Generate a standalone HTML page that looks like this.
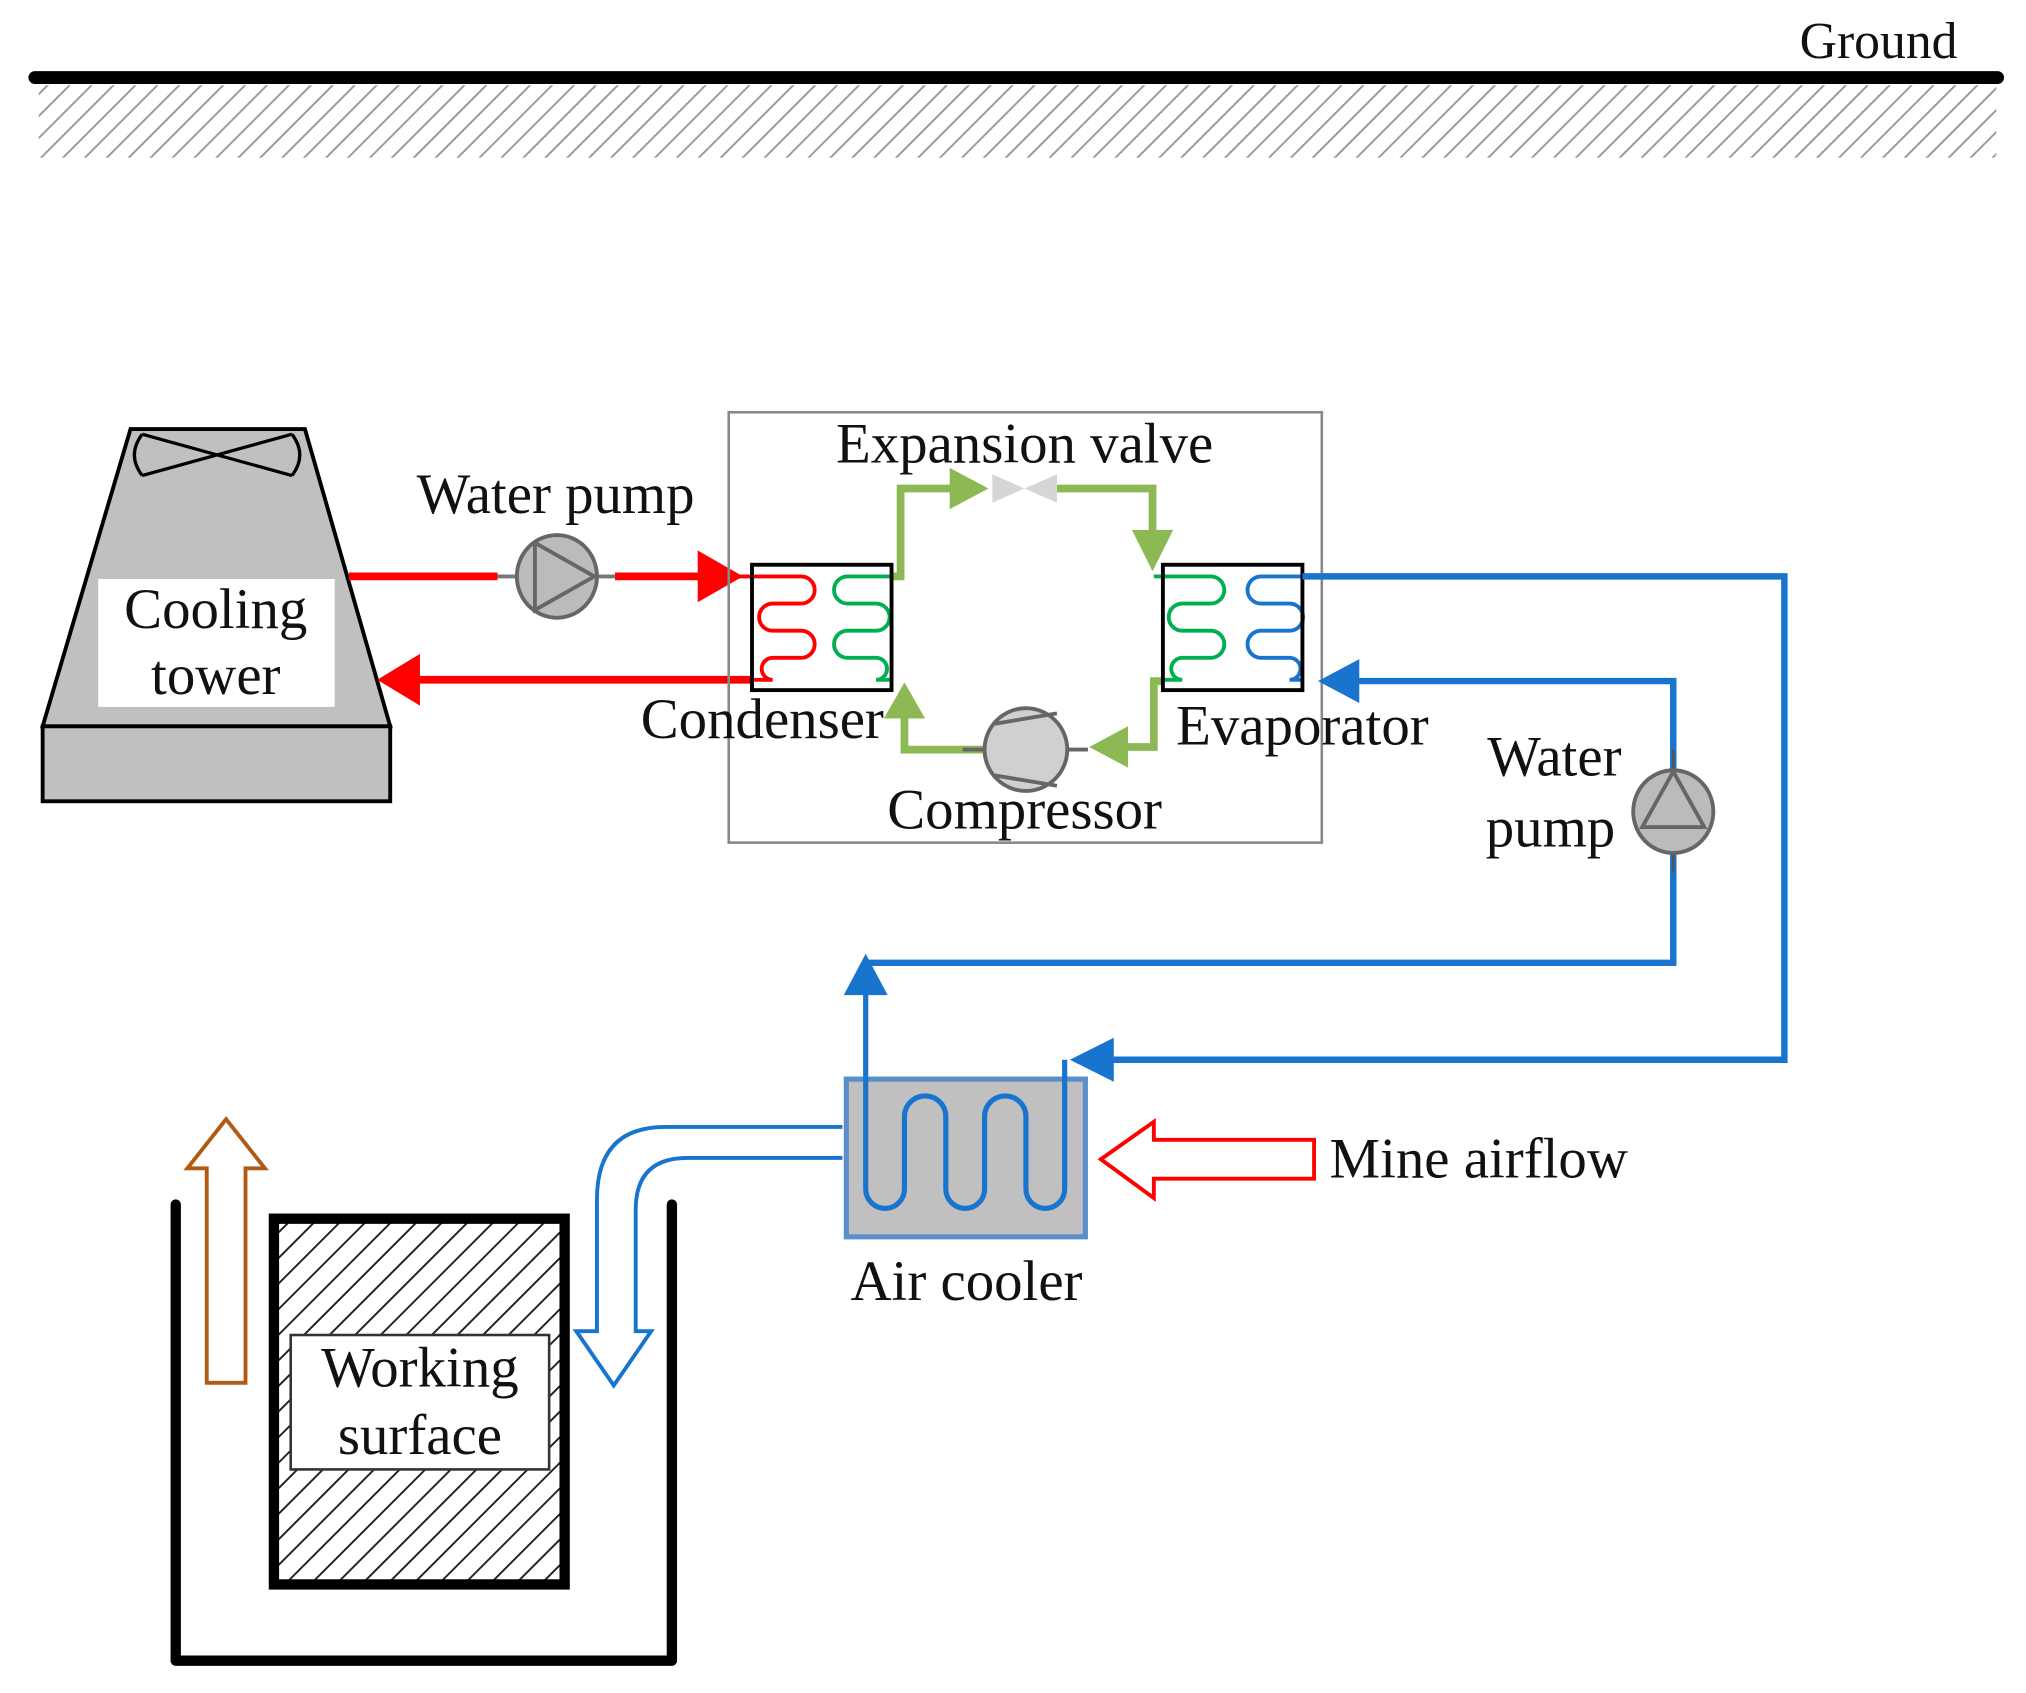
<!DOCTYPE html>
<html><head><meta charset="utf-8"><style>
html,body{margin:0;padding:0;background:#fff}
svg{display:block}
text{font-family:"Liberation Serif",serif;fill:#111}
</style></head><body>
<svg width="2026" height="1693" viewBox="0 0 1568 1310" preserveAspectRatio="none" xmlns="http://www.w3.org/2000/svg">
<defs>
<pattern id="hg" width="12" height="12" patternUnits="userSpaceOnUse" patternTransform="rotate(45)">
<rect width="12" height="12" fill="#fff"/><line x1="0" y1="0" x2="0" y2="12" stroke="#9a9a9a" stroke-width="3"/></pattern>
<pattern id="hb" width="14" height="14" patternUnits="userSpaceOnUse" patternTransform="rotate(45)">
<rect width="14" height="14" fill="#fff"/><line x1="0" y1="0" x2="0" y2="14" stroke="#222" stroke-width="3"/></pattern>
</defs>

<text x="1515" y="45" font-size="40" text-anchor="end">Ground</text>
<rect x="30" y="66" width="1515" height="56" fill="url(#hg)"/>
<line x1="27" y1="60" x2="1546" y2="60" stroke="#000" stroke-width="10" stroke-linecap="round"/>

<polygon points="101,332 236,332 302,562 33,562" fill="#c0c0c0" stroke="#000" stroke-width="3"/>
<rect x="33" y="562" width="269" height="58" fill="#c0c0c0" stroke="#000" stroke-width="3"/>
<path d="M110,336 Q98,352 110,368 M226,336 Q238,352 226,368" fill="none" stroke="#000" stroke-width="2.5"/>
<line x1="110" y1="336" x2="226" y2="368" stroke="#000" stroke-width="2.5"/>
<line x1="110" y1="368" x2="226" y2="336" stroke="#000" stroke-width="2.5"/>
<rect x="76" y="448" width="183" height="99" fill="#fff"/>
<text x="167" y="486" font-size="44" text-anchor="middle">Cooling</text>
<text x="167" y="537" font-size="44" text-anchor="middle">tower</text>

<line x1="270" y1="446" x2="385" y2="446" stroke="#f00" stroke-width="6"/>
<line x1="385" y1="446" x2="400" y2="446" stroke="#777" stroke-width="3"/>
<line x1="462" y1="446" x2="476" y2="446" stroke="#777" stroke-width="3"/>
<line x1="476" y1="446" x2="550" y2="446" stroke="#f00" stroke-width="6"/>
<polygon points="540,426 575,446 540,466" fill="#f00"/>
<ellipse cx="431" cy="446" rx="31" ry="32" fill="#bbb" stroke="#666" stroke-width="3"/>
<polyline points="414,420 460,446 414,472 414,420" fill="none" stroke="#666" stroke-width="3"/>
<line x1="582" y1="526" x2="320" y2="526" stroke="#f00" stroke-width="6"/>
<polygon points="325,506 292,526 325,546" fill="#f00"/>

<rect x="564" y="319" width="459" height="333" fill="none" stroke="#888" stroke-width="2"/>
<text x="793" y="358" font-size="44" text-anchor="middle">Expansion valve</text>
<text x="430" y="397" font-size="44" text-anchor="middle">Water pump</text>

<g stroke="#8db955" stroke-width="6" fill="none">
<polyline points="690,446 697,446 697,378 745,378"/>
<polyline points="818,378 892,378 892,420"/>
<polyline points="900,527 893,527 893,578 860,578"/>
<polyline points="762,580 700,580 700,548"/>
</g>
<polygon points="735,362 765,378 735,394" fill="#8db955"/>
<polygon points="876,410 892,442 908,410" fill="#8db955"/>
<polygon points="873,562 843,578 873,594" fill="#8db955"/>
<polygon points="684,556 700,528 716,556" fill="#8db955"/>
<polygon points="768,367 818,389 818,367 768,389" fill="#d6d6d6"/>

<line x1="745" y1="580" x2="842" y2="580" stroke="#666" stroke-width="3"/>
<circle cx="794" cy="580" r="32" fill="#d0d0d0" stroke="#666" stroke-width="3"/>
<path d="M770,560 L818,552 M770,600 L818,608" stroke="#666" stroke-width="3"/>
<text x="793" y="641" font-size="44" text-anchor="middle">Compressor</text>

<path d="M572,446 H620 a10.5 10.5 0 0 1 0 21 H598 a10.5 10.5 0 0 0 0 21 H620 a10.5 10.5 0 0 1 0 21 H598 a8.5 8.5 0 0 0 0 17 H582" fill="none" stroke="#f00" stroke-width="3"/>
<path d="M690,446 H656 a10.5 10.5 0 0 0 0 21 H678 a10.5 10.5 0 0 1 0 21 H656 a10.5 10.5 0 0 0 0 21 H678 a8.5 8.5 0 0 1 0 17 H690" fill="none" stroke="#00b050" stroke-width="3"/>
<rect x="582" y="437" width="108" height="97" fill="none" stroke="#000" stroke-width="3"/>
<text x="590" y="571" font-size="44" text-anchor="middle">Condenser</text>

<path d="M893,446 H937 a10.5 10.5 0 0 1 0 21 H915 a10.5 10.5 0 0 0 0 21 H937 a10.5 10.5 0 0 1 0 21 H915 a8.5 8.5 0 0 0 0 17 H900" fill="none" stroke="#00b050" stroke-width="3"/>
<path d="M1008,446 H976 a10.5 10.5 0 0 0 0 21 H998 a10.5 10.5 0 0 1 0 21 H976 a10.5 10.5 0 0 0 0 21 H998 a8.5 8.5 0 0 1 0 17 H1008" fill="none" stroke="#1874cd" stroke-width="3"/>
<rect x="900" y="437" width="108" height="97" fill="none" stroke="#000" stroke-width="3"/>
<text x="1008" y="576" font-size="44" text-anchor="middle">Evaporator</text>

<g stroke="#1874cd" stroke-width="5" fill="none">
<polyline points="1008,446 1381,446 1381,820 850,820"/>
<polyline points="1295,595 1295,527 1040,527"/>
<polyline points="1295,660 1295,745 670,745 670,765"/>
</g>
<polygon points="862,803 828,820 862,837" fill="#1874cd"/>
<polygon points="1052,510 1020,527 1052,544" fill="#1874cd"/>
<polygon points="653,770 670,738 687,770" fill="#1874cd"/>
<line x1="1295" y1="580" x2="1295" y2="675" stroke="#555" stroke-width="2"/>
<ellipse cx="1295" cy="628" rx="31" ry="32" fill="#bbb" stroke="#666" stroke-width="3"/>
<polyline points="1295,597 1319,640 1271,640 1295,597" fill="none" stroke="#666" stroke-width="3"/>
<text x="1203" y="600" font-size="44" text-anchor="middle">Water</text>
<text x="1200" y="655" font-size="44" text-anchor="middle">pump</text>

<rect x="655" y="835" width="185" height="122" fill="#c0c0c0" stroke="#5b8fc9" stroke-width="4"/>
<path d="M670,765 V920 a15 15 0 0 0 30 0 V864 a16 16 0 0 1 32 0 V920 a15 15 0 0 0 30 0 V864 a16 16 0 0 1 32 0 V920 a15 15 0 0 0 30 0 V820" fill="none" stroke="#1874cd" stroke-width="4"/>
<text x="748" y="1006" font-size="44" text-anchor="middle">Air cooler</text>

<polygon points="852,897 893,868 893,882 1017,882 1017,912 893,912 893,927" fill="#fff" stroke="#f00" stroke-width="3"/>
<text x="1029" y="911" font-size="44">Mine airflow</text>

<path d="M652,872 H515 Q462,872 462,928 V1030 H446 L475,1072 L504,1030 H492 V936 Q492,896 532,896 H652" fill="#fff" stroke="#1874cd" stroke-width="3"/>

<polygon points="175,866 205,904 190,904 190,1070 160,1070 160,904 145,904" fill="#fff" stroke="#b05a14" stroke-width="3"/>

<polyline points="136,932 136,1285 520,1285 520,932" fill="none" stroke="#000" stroke-width="8" stroke-linecap="round" stroke-linejoin="round"/>
<rect x="212" y="943" width="225" height="283" fill="url(#hb)" stroke="#000" stroke-width="8"/>
<rect x="225" y="1033" width="200" height="104" fill="#fff" stroke="#333" stroke-width="2"/>
<text x="325" y="1073" font-size="44" text-anchor="middle">Working</text>
<text x="325" y="1125" font-size="44" text-anchor="middle">surface</text>
</svg>
</body></html>
